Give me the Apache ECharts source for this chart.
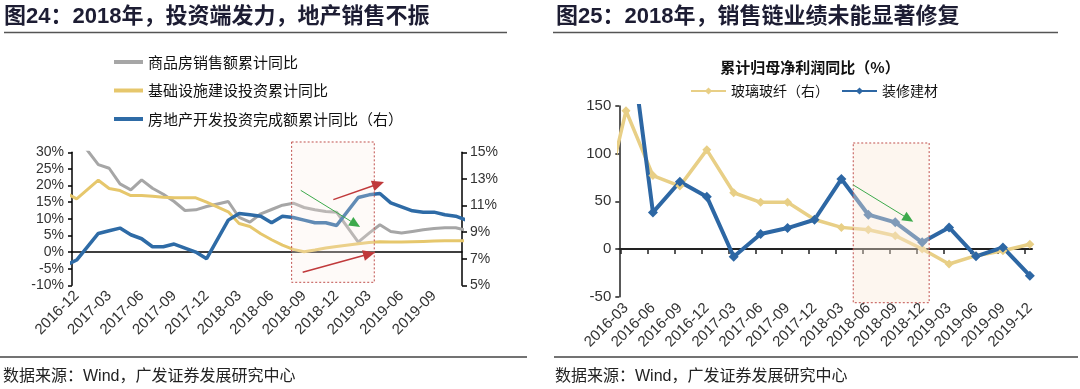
<!DOCTYPE html>
<html><head><meta charset="utf-8">
<script src="https://cdn.jsdelivr.net/npm/echarts@6/dist/echarts.min.js"></script>
<style>html,body{margin:0;padding:0;background:#fff}#c{width:1080px;height:389px}</style>
</head><body><div id="c"></div><script>
// ---- Left chart (monthly) ----
const months = ['2016-11','2016-12','2017-01','2017-02','2017-03','2017-04','2017-05','2017-06','2017-07','2017-08','2017-09','2017-10','2017-11','2017-12','2018-01','2018-02','2018-03','2018-04','2018-05','2018-06','2018-07','2018-08','2018-09','2018-10','2018-11','2018-12','2019-01','2019-02','2019-03','2019-04','2019-05','2019-06','2019-07','2019-08','2019-09','2019-10','2019-11','2019-12'];
const monthTickLabels = ['2016-12','2017-03','2017-06','2017-09','2017-12','2018-03','2018-06','2018-09','2018-12','2019-03','2019-06','2019-09'];
const salesYoY = [37.5,34.8,null,26.3,25.2,20.5,18.7,21.7,19.2,17.4,15.2,12.5,12.7,13.7,null,15.2,10.4,9.0,11.5,12.8,14.1,14.7,13.4,12.7,12.2,12.0,null,3.0,5.7,8.2,6.2,5.7,6.2,6.7,7.1,7.3,7.3,6.5];
const infraYoY = [17.8,16.0,null,21.6,19.1,18.5,17.0,17.0,16.8,16.5,16.3,16.3,16.3,15.0,null,12.1,8.6,7.7,5.5,3.7,2.1,0.8,0.1,0.6,1.2,1.7,null,2.5,2.9,3.1,3.0,3.0,3.1,3.2,3.3,3.4,3.4,3.4];
const reInvYoY = [6.5,6.9,null,8.9,9.1,9.3,8.8,8.5,7.9,7.9,8.1,7.8,7.5,7.0,null,9.9,10.4,10.3,10.2,9.7,10.2,10.1,9.9,9.7,9.7,9.5,null,11.6,11.8,11.9,11.2,10.9,10.6,10.5,10.5,10.3,10.2,9.9];
const rightTicks = [5,7,9,11,13,15];
const leftNames = ['商品房销售额累计同比','基础设施建设投资累计同比','房地产开发投资完成额累计同比（右）'];

// ---- Right chart (quarterly) ----
const quarters = ['2015-12','2016-03','2016-06','2016-09','2016-12','2017-03','2017-06','2017-09','2017-12','2018-03','2018-06','2018-09','2018-12','2019-03','2019-06','2019-09','2019-12'];
const glassFiberYoY = [25,145,77,66,104,59,49,49,31,22.7,20.2,14,0,-15.7,-7,-1.8,5];
const decoMaterialYoY = [null,256,38.4,70.6,54.9,-8.1,15.7,22,30.7,73.4,36,28,7,22.7,-7.7,1.7,-28];
const rightNames = ['玻璃玻纤（右）','装修建材'];

const LAT = '"Liberation Sans", Arial, "Noto Sans CJK SC", sans-serif';
const CJK = '"Noto Sans CJK SC", sans-serif';

const pairs = arr => arr.map((v, i) => [i, v]);
const monthIdx = monthTickLabels.map(m => months.indexOf(m));
const quarterIdx = quarters.slice(1).map(q => quarters.indexOf(q));

const chart = echarts.init(document.getElementById('c'));
const noSplit = { show: false };
chart.setOption({
  animation: false,
  backgroundColor: '#fff',
  grid: [
    { left: 72, top: 152.3, width: 390, height: 133 },
    { left: 619.3, top: 106, width: 412.7, height: 190.7 }
  ],
  xAxis: [
    { gridIndex: 0, type: 'value', min: 0.57, max: 36.58,
      axisLine: { show: false, onZero: false }, axisTick: { show: false }, splitLine: noSplit,
      axisLabel: { customValues: monthIdx, rotate: 45, margin: 8, fontSize: 15, color: '#333', fontFamily: LAT,
        formatter: v => months[Math.round(v)] } },
    { gridIndex: 0, type: 'value', position: 'top', min: 0.57, max: 36.58,
      axisLine: { show: true, onZero: true, lineStyle: { color: '#000', width: 1.5 } },
      axisTick: { show: false }, axisLabel: { show: false }, splitLine: noSplit },
    { gridIndex: 1, type: 'value', min: 0.75, max: 16.08,
      axisLine: { show: false, onZero: false }, axisTick: { show: false }, splitLine: noSplit,
      axisLabel: { customValues: quarterIdx, rotate: 45, margin: 9, fontSize: 15, color: '#333', fontFamily: LAT,
        formatter: v => quarters[Math.round(v)] } },
    { gridIndex: 1, type: 'value', position: 'top', min: 0.75, max: 16.08,
      axisLine: { show: true, onZero: true, lineStyle: { color: '#222', width: 2 } },
      axisTick: { show: true, inside: true, length: 5, customValues: quarterIdx.map(i => i - 0.2), lineStyle: { color: '#222', width: 1.5 } },
      axisLabel: { show: false }, splitLine: noSplit }
  ],
  yAxis: [
    { gridIndex: 0, type: 'value', min: -10, max: 30, interval: 5,
      axisLine: { show: true, onZero: false, lineStyle: { color: '#000', width: 1.5 } },
      axisTick: { show: true, length: 4, lineStyle: { color: '#000', width: 1.5 } },
      axisLabel: { formatter: '{value}%', fontSize: 14, color: '#333', fontFamily: LAT, margin: 8 },
      splitLine: noSplit },
    { gridIndex: 0, type: 'value', position: 'right', min: 5, max: 15,
      axisLine: { show: true, onZero: false, lineStyle: { color: '#000', width: 1.5 } },
      axisTick: { show: true, length: 5, customValues: rightTicks, lineStyle: { color: '#000', width: 1.5 } },
      axisLabel: { customValues: rightTicks, formatter: '{value}%', fontSize: 14, color: '#333', fontFamily: LAT, margin: 8 },
      splitLine: noSplit },
    { gridIndex: 1, type: 'value', min: -50, max: 150, interval: 50,
      axisLine: { show: true, onZero: false, lineStyle: { color: '#222', width: 1.5 } },
      axisTick: { show: true, length: 4, lineStyle: { color: '#222', width: 1.5 } },
      axisLabel: { fontSize: 15, color: '#333', fontFamily: LAT, margin: 8 },
      splitLine: noSplit },
    { gridIndex: 1, type: 'value', position: 'right', min: -50, max: 150, interval: 50, show: false,
      axisLine: { onZero: false }, splitLine: noSplit }
  ],
  legend: [
    { data: leftNames.map(n => ({ name: n, icon: 'rect' })), orient: 'vertical', left: 114, top: 54.5, padding: 0,
      itemWidth: 29, itemHeight: 4, itemGap: 13.5,
      textStyle: { fontSize: 15, color: '#111', fontFamily: CJK, lineHeight: 15 } },
    { data: rightNames, orient: 'horizontal', left: 690, top: 84, padding: 0, itemWidth: 35, itemHeight: 9, itemGap: 12,
      textStyle: { fontSize: 14, color: '#111', fontFamily: CJK } }
  ],
  series: [
    { name: leftNames[0], type: 'line', xAxisIndex: 0, yAxisIndex: 0, data: pairs(salesYoY), symbol: 'none', connectNulls: true,
      lineStyle: { color: '#A6A6A6', width: 3 }, itemStyle: { color: '#A6A6A6' } },
    { name: leftNames[1], type: 'line', xAxisIndex: 0, yAxisIndex: 0, data: pairs(infraYoY), symbol: 'none', connectNulls: true,
      lineStyle: { color: '#E6C76C', width: 3 }, itemStyle: { color: '#E6C76C' } },
    { name: leftNames[2], type: 'line', xAxisIndex: 0, yAxisIndex: 1, data: pairs(reInvYoY), symbol: 'none', connectNulls: true,
      lineStyle: { color: '#2E6BA6', width: 3.5 }, itemStyle: { color: '#2E6BA6' } },
    { name: rightNames[0], type: 'line', xAxisIndex: 2, yAxisIndex: 3, data: pairs(glassFiberYoY), symbol: 'diamond', symbolSize: 9,
      lineStyle: { color: '#E8CF86', width: 3.5 }, itemStyle: { color: '#E8CF86' } },
    { name: rightNames[1], type: 'line', xAxisIndex: 2, yAxisIndex: 2, data: pairs(decoMaterialYoY), symbol: 'diamond', symbolSize: 10,
      lineStyle: { color: '#2D67A4', width: 4 }, itemStyle: { color: '#2D67A4' } }
  ]
});

// ---- annotations (defined in data units, converted through the axes) ----
const leftBox = { x: [20.85, 28.48], y: [33.1, -9.1] };
const leftArrows = [
  { from: [21.69, 18.56], to: [27.17, 7.55], color: '#3DAA4C', w: 1, head: 11 },
  { from: [24.70, 15.76], to: [29.38, 21.08], color: '#C0393B', w: 1.5, head: 12 },
  { from: [21.87, -6.1], to: [28.55, -0.1], color: '#C0393B', w: 1.5, head: 12 }
];
const rightBox = { x: [9.44, 12.26], y: [111.2, -56.3] };
const rightArrows = [
  { from: [9.44, 67.2], to: [11.67, 28.6], color: '#3DAA4C', w: 1, head: 11 }
];
const L = (pt) => chart.convertToPixel({ xAxisIndex: 0, yAxisIndex: 0 }, pt);
const R = (pt) => chart.convertToPixel({ xAxisIndex: 2, yAxisIndex: 2 }, pt);

function arrow(p0, p1, color, lw, head) {
  const dx = p1[0] - p0[0], dy = p1[1] - p0[1], len = Math.hypot(dx, dy);
  const ux = dx / len, uy = dy / len, nx = -uy, ny = ux;
  const bx = p1[0] - ux * head, by = p1[1] - uy * head, hw = head * 0.45;
  return [
    { type: 'line', z: 100, shape: { x1: p0[0], y1: p0[1], x2: bx + ux * 2, y2: by + uy * 2 }, style: { stroke: color, lineWidth: lw } },
    { type: 'polygon', z: 100, shape: { points: [[p1[0], p1[1]], [bx + nx * hw, by + ny * hw], [bx - nx * hw, by - ny * hw]] }, style: { fill: color } }
  ];
}
function box(b, conv, fill) {
  const a = conv([b.x[0], b.y[0]]), c = conv([b.x[1], b.y[1]]);
  return { type: 'rect', z: 90, shape: { x: a[0], y: a[1], width: c[0] - a[0], height: c[1] - a[1] },
    style: { fill: fill, stroke: '#C0504D', lineWidth: 1, lineDash: [2, 2] } };
}
const g = [];
g.push(box(leftBox, L, 'rgba(252,236,228,0.25)'));
g.push(box(rightBox, R, 'rgba(251,232,215,0.4)'));
leftArrows.forEach(a => g.push(...arrow(L(a.from), L(a.to), a.color, a.w, a.head)));
rightArrows.forEach(a => g.push(...arrow(R(a.from), R(a.to), a.color, a.w, a.head)));

const titleStyle = { fontSize: 22, fontWeight: 'bold', fontFamily: LAT, fill: '#1d1d33', verticalAlign: 'middle' };
g.push({ type: 'text', x: 4, y: 17, style: Object.assign({ text: '图24：2018年，投资端发力，地产销售不振' }, titleStyle) });
g.push({ type: 'text', x: 556, y: 17, style: Object.assign({ text: '图25：2018年，销售链业绩未能显著修复' }, titleStyle) });
g.push({ type: 'line', shape: { x1: 4, y1: 32.5, x2: 507, y2: 32.5 }, style: { stroke: '#555', lineWidth: 1.5 } });
g.push({ type: 'line', shape: { x1: 553, y1: 32.5, x2: 1058, y2: 32.5 }, style: { stroke: '#555', lineWidth: 1.5 } });
g.push({ type: 'text', x: 810, y: 67, style: { text: '累计归母净利润同比（%）', fontSize: 15, fontWeight: 'bold', fontFamily: CJK, fill: '#111', align: 'center', verticalAlign: 'middle' } });
g.push({ type: 'line', shape: { x1: 0, y1: 357, x2: 527, y2: 357 }, style: { stroke: '#444', lineWidth: 1.5 } });
g.push({ type: 'line', shape: { x1: 554, y1: 357, x2: 1078, y2: 357 }, style: { stroke: '#444', lineWidth: 1.5 } });
const srcStyle = { fontSize: 16, fontFamily: LAT, fill: '#222', verticalAlign: 'middle' };
g.push({ type: 'text', x: 3, y: 377, style: Object.assign({ text: '数据来源：Wind，广发证券发展研究中心' }, srcStyle) });
g.push({ type: 'text', x: 555, y: 377, style: Object.assign({ text: '数据来源：Wind，广发证券发展研究中心' }, srcStyle) });
chart.setOption({ graphic: { elements: g } });
</script></body></html>
